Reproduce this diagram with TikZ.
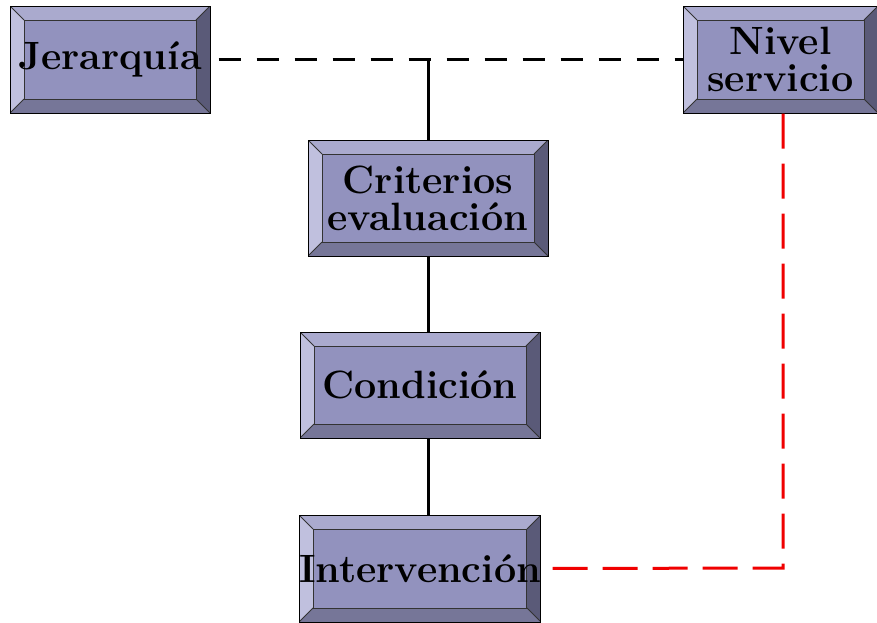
\documentclass[tikz,border=0pt]{standalone}
\usepackage{fontspec}
\definecolor{facecol}{RGB}{146,146,190}
\definecolor{topcol}{RGB}{170,170,206}
\definecolor{leftcol}{RGB}{192,192,222}
\definecolor{rightcol}{RGB}{90,90,120}
\definecolor{botcol}{RGB}{118,118,152}
\definecolor{linkred}{RGB}{240,0,0}
\tikzset{
  bevelbox/.style={draw=black, line width=1pt, fill=facecol, inner sep=0pt,
    align=center, font=\fontsize{39.5}{37}\selectfont\bfseries,
    path picture={
      \fill[topcol] (path picture bounding box.north west) -- (path picture bounding box.north east)
        -- ([shift={(-14pt,-14pt)}]path picture bounding box.north east)
        -- ([shift={(14pt,-14pt)}]path picture bounding box.north west) -- cycle;
      \fill[leftcol] (path picture bounding box.north west) -- (path picture bounding box.south west)
        -- ([shift={(14pt,14pt)}]path picture bounding box.south west)
        -- ([shift={(14pt,-14pt)}]path picture bounding box.north west) -- cycle;
      \fill[rightcol] (path picture bounding box.north east) -- (path picture bounding box.south east)
        -- ([shift={(-14pt,14pt)}]path picture bounding box.south east)
        -- ([shift={(-14pt,-14pt)}]path picture bounding box.north east) -- cycle;
      \fill[botcol] (path picture bounding box.south west) -- (path picture bounding box.south east)
        -- ([shift={(-14pt,14pt)}]path picture bounding box.south east)
        -- ([shift={(14pt,14pt)}]path picture bounding box.south west) -- cycle;
      \draw[line width=1pt, black!80] ([shift={(14pt,-14pt)}]path picture bounding box.north west)
        rectangle ([shift={(-14pt,14pt)}]path picture bounding box.south east);
      \draw[line width=0.8pt, black!80]
        (path picture bounding box.north west) -- ([shift={(14pt,-14pt)}]path picture bounding box.north west)
        (path picture bounding box.north east) -- ([shift={(-14pt,-14pt)}]path picture bounding box.north east)
        (path picture bounding box.south west) -- ([shift={(14pt,14pt)}]path picture bounding box.south west)
        (path picture bounding box.south east) -- ([shift={(-14pt,14pt)}]path picture bounding box.south east);
    }},
  link/.style={line width=3pt, black},
  dashlink/.style={line width=3pt, black, dash pattern=on 22pt off 16pt, dash phase=30pt},
  servlink/.style={line width=3pt, linkred, dash pattern=on 35pt off 15pt}
}
\begin{document}
\begin{tikzpicture}[x=1pt, y=-1pt]
  \useasboundingbox (0,0) rectangle (877,622);

  \node[bevelbox, minimum width=200pt, minimum height=107pt] (jer) at (110,59.5) {Jerarqu\'ia};
  \node[bevelbox, minimum width=195pt, minimum height=107pt] (niv) at (780.5,59.5) {Nivel\\servicio};
  \node[bevelbox, minimum width=240pt, minimum height=116pt] (crit) at (428,198) {Criterios\\evaluaci\'on};
  \node[bevelbox, minimum width=240pt, minimum height=106pt] (cond) at (420,385) {Condici\'on};
  \node[bevelbox, minimum width=240pt, minimum height=107pt] (inter) at (420,568.5) {Intervenci\'on};

  \coordinate (top) at (428,60);
  \coordinate (corner) at (783,568);

  \draw[dashlink] (jer.east) -- (niv.west);
  \draw[link] (top) -- (crit.north);
  \draw[link] (crit.south) -- (crit.south |- cond.north);
  \draw[link] (crit.south |- cond.south) -- (crit.south |- inter.north);
  \draw[servlink] (niv.south -| corner) -- (corner) -- (inter.east);
\end{tikzpicture}
\end{document}
